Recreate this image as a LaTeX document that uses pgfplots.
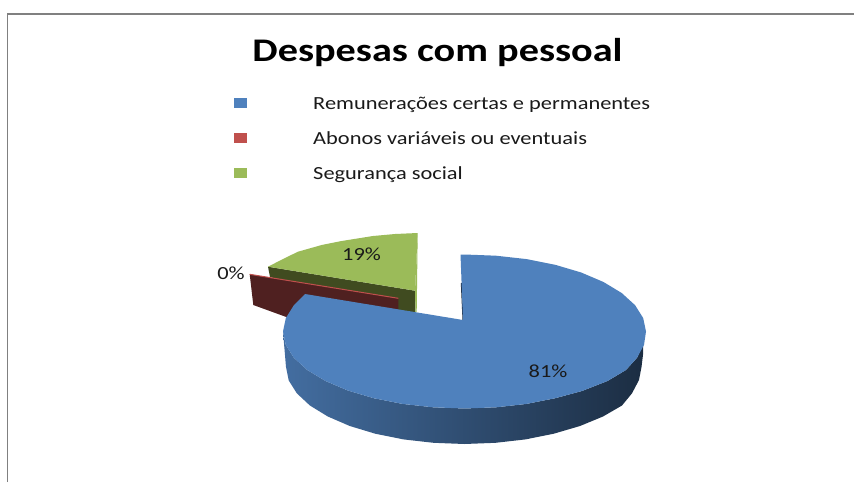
\documentclass[border=0pt]{standalone}
\usepackage{pgfplots}
\pgfplotsset{compat=1.18}
\usepackage{fontspec}
\setmainfont{Carlito}
\definecolor{bl}{HTML}{4F81BD}
\definecolor{rd}{HTML}{C0504D}
\definecolor{gr}{HTML}{9BBB59}
\definecolor{grw}{HTML}{404B20}
\definecolor{mar}{HTML}{4F2020}
\definecolor{txt}{HTML}{1A1A1A}
\pgfdeclarehorizontalshading{wall}{100bp}{
 color(0bp)=(bl!95!black);
 color(25bp)=(bl!85!black);
 color(50bp)=(bl!60!black);
 color(75bp)=(bl!35!black);
 color(85bp)=(bl!33!black);
 color(100bp)=(bl!38!black)}
\begin{document}
\begin{tikzpicture}
\begin{axis}[width=854pt,height=482pt,scale only axis,xmin=0,xmax=854,ymin=0,ymax=482,y dir=reverse,axis lines=none,clip=true]
\addplot[fill=white,draw=none] coordinates {(0,0)(854,0)(854,482)(0,482)} -- cycle;
% frame
\addplot[draw=black!50,line width=1.6pt] coordinates {(7.5,482)(7.5,14)(854,14)};
% green wall
\addplot[fill=grw,draw=none] coordinates {(268,266.7)(415,290.7)(415.5,312)(395,312)(270,277)} -- cycle;
\addplot[fill=gr,draw=none] coordinates {(417.7,233)(415,291)(415.5,312)(416.7,312)} -- cycle;
% green top
\addplot[fill=gr,draw=none] coordinates {(268,266.7)(285,258)(298,251.7)(321.7,245)(341.7,241)(373,236)(395,234)(417.7,233)(415,290.7)} -- cycle;
% maroon
\addplot[fill=mar,draw=none] coordinates {(249.7,274.3)(398.3,298.3)(398.3,315)(300,322)(253.3,305)} -- cycle;
\addplot[draw=rd,line width=1pt] coordinates {(249.7,274.3)(398.3,298.3)};
% blue wall
\addplot[shading=wall,draw=none] coordinates {(283,331.5)(285.8,344.9)(293.9,357.8)(307.3,370)(325.5,381)(347.8,390.5)(373.75,398.2)(402.4,403.9)(433,407.3)(464.5,408.5)(496,407.3)(526.6,403.9)(555.25,398.2)(582,391)(607.5,381)(626,370)(637,357.8)(643.2,344.9)(643.2,353)(641.5,367)(639,380)(632,393.3)(622,405.5)(603,416.5)(580,426)(553.75,433.7)(525.5,439.4)(495.5,442.8)(464.5,444)(433.5,442.8)(403.5,439.4)(375.25,433.7)(349.8,426)(327.8,416.5)(309.9,405.5)(296.8,393.3)(288.7,380.4)(286,367)} -- cycle;
% blue inner wall
\addplot[draw=bl!35!black,line width=1pt] coordinates {(461.3,283)(463,320)};
% blue top
\addplot[fill=bl,draw=none] coordinates {(460.5,254.6)(464.5,254.5)(496,255.7)(526.6,259.1)(555.25,264.8)(581.2,272.5)(603.5,282)(621.7,293)(635.1,305.2)(643.2,318.1)(646,331.5)(644,344.9)(637,357.8)(626,370)(607.5,381)(582,391)(555.25,398.2)(526.6,403.9)(496,407.3)(464.5,408.5)(433,407.3)(402.4,403.9)(373.75,398.2)(347.8,390.5)(325.5,381)(307.3,370)(293.9,357.8)(285.8,344.9)(283,331.5)(285.8,318.1)(293.9,305.2)(305,294)(463,320)} -- cycle;
% legend keys
\addplot[fill=bl,draw=none] coordinates {(234,98.3)(246.7,98.3)(246.7,108.3)(234,108.3)} -- cycle;
\addplot[fill=rd,draw=none] coordinates {(234,133.3)(246.7,133.3)(246.7,143.3)(234,143.3)} -- cycle;
\addplot[fill=gr,draw=none] coordinates {(234,168.3)(246.7,168.3)(246.7,178.3)(234,178.3)} -- cycle;
\node[font=\fontsize{33}{36}\selectfont\bfseries,text=black,inner sep=0,anchor=base,xscale=1.22] at (axis cs:437.5,61) {Despesas com pessoal};
\node[font=\fontsize{18.5}{22}\selectfont,text=txt,inner sep=0,anchor=base west,xscale=1.21] at (axis cs:313,109.3) {Remunerações certas e permanentes};
\node[font=\fontsize{18.5}{22}\selectfont,text=txt,inner sep=0,anchor=base west,xscale=1.21] at (axis cs:313,144) {Abonos variáveis ou eventuais};
\node[font=\fontsize{18.5}{22}\selectfont,text=txt,inner sep=0,anchor=base west,xscale=1.21] at (axis cs:313,179) {Segurança social};
\node[font=\fontsize{18.5}{22}\selectfont,text=txt,inner sep=0,anchor=base,xscale=1.21] at (axis cs:361.5,260) {19\%};
\node[font=\fontsize{18.5}{22}\selectfont,text=txt,inner sep=0,anchor=base,xscale=1.21] at (axis cs:231,279) {0\%};
\node[font=\fontsize{18.5}{22}\selectfont,text=txt,inner sep=0,anchor=base,xscale=1.21] at (axis cs:548,377) {81\%};
\end{axis}
\end{tikzpicture}
\end{document}
